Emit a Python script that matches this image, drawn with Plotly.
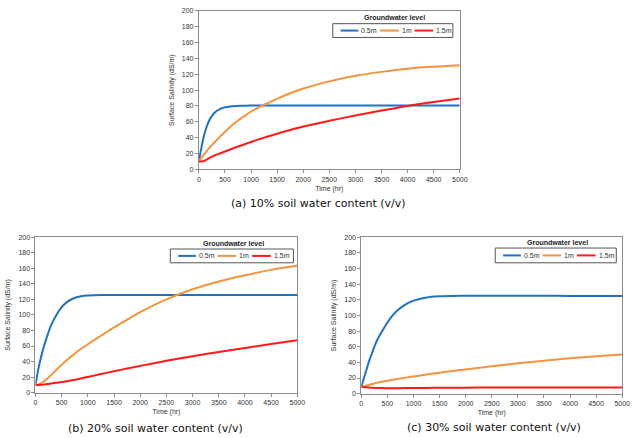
import plotly.graph_objects as go

W, H = 643, 438

T = [0, 50, 100, 150, 200, 250, 300, 400, 500, 600, 700, 800, 900, 1000,
     1250, 1500, 1750, 2000, 2500, 3000, 3500, 4000, 4500, 5000]

series_names = ["0.5m", "1m", "1.5m"]
colors = ["#1f72c4", "#f5933f", "#ff1a1a"]

a_05 = [10, 28, 43, 54, 62, 67.5, 71.5, 76, 78.3, 79.4, 80, 80.3, 80.4, 80.5,
        80.5, 80.5, 80.5, 80.5, 80.5, 80.5, 80.5, 80.5, 80.5, 80.5]
a_1 = [10, 14.5, 19, 23, 27, 30.5, 34, 41, 47.5, 53.5, 59, 64, 68.5, 73,
       81.5, 89, 96, 102, 111, 118, 123, 127, 129.5, 131.5]
a_15 = [10, 10, 10.5, 12.3, 14.2, 15.9, 17.5, 20, 22.5, 25, 27.5, 29.8, 32.2, 34.5,
        40, 45, 49.7, 54, 61.2, 68, 74.2, 80, 85, 89.5]

b_05 = [10, 29, 44, 57, 68, 78, 87, 100, 110, 116.5, 120.5, 123, 124.5, 125,
        125.5, 125.5, 125.5, 125.5, 125.5, 125.5, 125.5, 125.5, 125.5, 125.5]
b_1 = [10, 10.5, 12, 14, 16.7, 19.7, 22.8, 29.4, 35.8, 42, 47.7, 53, 57.8, 62.3,
       73.2, 84, 94, 103.7, 120, 133, 143, 151, 158, 163.5]
b_15 = [10, 10, 10.1, 10.4, 10.8, 11.3, 11.8, 12.8, 13.7, 14.8, 16, 17.3, 18.8, 20.3,
        24, 27.6, 31.1, 34.5, 41, 47, 52.3, 57.5, 62.5, 67.5]

c_05 = [9, 20, 31, 42, 51, 60, 68, 80, 91, 100, 107, 112, 116, 119,
        123, 124.5, 125, 125.3, 125.3, 125.2, 125.2, 125, 125, 125]
c_1 = [8, 9.3, 10.4, 11.4, 12.3, 13.1, 13.9, 15.3, 16.6, 17.8, 18.9, 20, 21, 22,
       24.5, 26.8, 29, 31, 35, 38.8, 42.2, 45.2, 47.8, 50]
c_15 = [9, 8.5, 8.1, 7.8, 7.6, 7.4, 7.3, 7.1, 7, 7, 7, 7.1, 7.2, 7.3,
        7.4, 7.5, 7.6, 7.7, 7.8, 7.9, 8, 8, 8, 8]

captions = ["(a) 10% soil water content (v/v)",
            "(b) 20% soil water content (v/v)",
            "(c) 30% soil water content (v/v)"]
legend_title = "Groundwater level"
x_title = "Time (hr)"
y_title = "Surface Salinity (dS/m)"
x_ticks = list(range(0, 5001, 500))
y_ticks = list(range(0, 201, 20))

panels = [
    dict(data=[a_05, a_1, a_15], box=(200, 465, 7, 168), leg=(336, 458, 20, 34), cap=(322, 203)),
    dict(data=[b_05, b_1, b_15], box=(34, 300, 237, 395), leg=(171, 296, 249, 263), cap=(156, 431)),
    dict(data=[c_05, c_1, c_15], box=(365, 630, 237, 396), leg=(501, 624, 248, 263), cap=(500, 430)),
]

def px(x):
    return x / W

def py(y):
    return 1 - y / H

fig = go.Figure()
shapes = []
annotations = []
FONT = "Liberation Sans, Arial, sans-serif"

for i, p in enumerate(panels):
    n = "" if i == 0 else str(i + 1)
    xa, ya = "x" + n, "y" + n
    for name, vals, col in zip(series_names, p["data"], colors):
        fig.add_trace(go.Scatter(x=T, y=vals, mode="lines", name=name,
                                 line=dict(color=col, width=2, shape="spline", smoothing=0.8),
                                 xaxis=xa, yaxis=ya, showlegend=False))
    x0, x1, y0, y1 = p["box"]
    axstyle = dict(showgrid=False, zeroline=False, showline=True, linecolor="#8c8c8c",
                   linewidth=1, mirror=True, ticks="outside", ticklen=3, tickcolor="#8c8c8c",
                   tickfont=dict(size=7, family=FONT, color="#333"))
    fig.update_layout(**{
        "xaxis" + n: dict(domain=[px(x0), px(x1)], range=[0, 5000], tickvals=x_ticks,
                          anchor=ya,
                          title=dict(text=x_title, font=dict(size=7, family=FONT, color="#333"), standoff=4),
                          **axstyle),
        "yaxis" + n: dict(domain=[py(y1), py(y0)], range=[0, 200], tickvals=y_ticks,
                          anchor=xa,
                          title=dict(text=y_title, font=dict(size=7, family=FONT, color="#333"), standoff=6),
                          **axstyle),
    })
    # custom legend
    lx0, lx1, ly0, ly1 = p["leg"]
    shapes.append(dict(type="rect", xref="paper", yref="paper", x0=px(lx0), x1=px(lx1),
                       y0=py(ly1), y1=py(ly0), line=dict(color="#555", width=1),
                       fillcolor="white"))
    annotations.append(dict(xref="paper", yref="paper", x=px((lx0 + lx1) / 2 + 2), y=py(ly0 - 6),
                            text="<b>" + legend_title + "</b>", showarrow=False,
                            font=dict(size=7, family=FONT, color="#222"),
                            xanchor="center", yanchor="middle"))
    ym = (ly0 + ly1) / 2
    offs = [(8, 26), (48, 67), (83, 102)]
    for (o0, o1), name, col in zip(offs, series_names, colors):
        shapes.append(dict(type="line", xref="paper", yref="paper", x0=px(lx0 + o0), x1=px(lx0 + o1),
                           y0=py(ym), y1=py(ym), line=dict(color=col, width=2)))
        annotations.append(dict(xref="paper", yref="paper", x=px(lx0 + o1 + 1), y=py(ym),
                                text=name, showarrow=False, xanchor="left", yanchor="middle",
                                font=dict(size=7, family=FONT, color="#333")))
    cx, cy = p["cap"]
    annotations.append(dict(xref="paper", yref="paper", x=px(cx), y=py(cy), text=captions[i],
                            showarrow=False, xanchor="center", yanchor="middle",
                            font=dict(size=11, family="DejaVu Sans, sans-serif", color="#111")))

fig.update_layout(width=W, height=H, margin=dict(l=0, r=0, t=0, b=0),
                  plot_bgcolor="white", paper_bgcolor="white",
                  shapes=shapes, annotations=annotations, showlegend=False)

fig.write_html("out.html")
